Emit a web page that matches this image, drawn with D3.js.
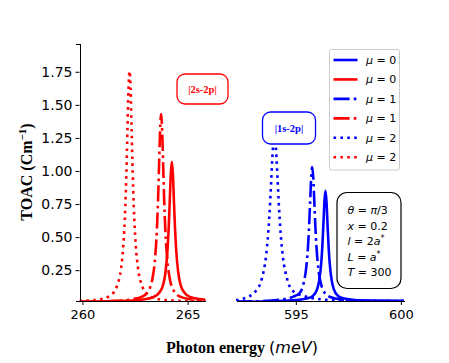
<!DOCTYPE html>
<html>
<head>
<meta charset="utf-8">
<title>TOAC</title>
<script src="https://cdn.jsdelivr.net/npm/d3@7"></script>
<style>
  body { margin: 0; background: #fff; }
  .tick text { font-family: "DejaVu Sans", sans-serif; font-size: 13px; fill: #000; }
  .yax .tick text { font-size: 14px; }
  .domain, .tick line { stroke: #000; stroke-width: 1; }
</style>
</head>
<body>
<script>
// |2s-2p| transition (left part of the broken axis), [energy meV, TOAC]
var red_mu0 = [[259.86,0.010],[262.05,0.018],[262.85,0.028],[263.35,0.045],[263.65,0.080],[263.85,0.148],[263.95,0.237],[264.05,0.418],[264.10,0.570],[264.15,0.770],[264.20,0.975],[264.25,1.070],[264.30,0.975],[264.35,0.770],[264.40,0.570],[264.45,0.418],[264.55,0.237],[264.65,0.148],[264.85,0.080],[265.15,0.045],[265.55,0.032],[265.85,0.027]];
var red_mu1 = [[259.86,0.012],[261.54,0.018],[262.34,0.030],[262.84,0.050],[263.14,0.095],[263.34,0.197],[263.44,0.317],[263.54,0.558],[263.59,0.761],[263.64,1.029],[263.69,1.303],[263.74,1.430],[263.79,1.303],[263.84,1.029],[263.89,0.761],[263.94,0.558],[264.04,0.317],[264.14,0.197],[264.34,0.095],[264.64,0.050],[265.14,0.030],[265.85,0.020]];
var red_mu2 = [[259.86,0.018],[260.40,0.022],[260.84,0.030],[261.34,0.060],[261.64,0.130],[261.84,0.268],[261.94,0.427],[262.04,0.736],[262.09,0.987],[262.14,1.304],[262.19,1.615],[262.24,1.755],[262.29,1.615],[262.34,1.304],[262.39,0.987],[262.44,0.736],[262.54,0.427],[262.64,0.268],[262.84,0.130],[263.14,0.060],[263.64,0.030],[264.44,0.020],[265.24,0.016],[265.85,0.014]];
// |1s-2p| transition (right part)
var blue_mu0 = [[592.15,0.010],[594.21,0.016],[595.01,0.024],[595.51,0.035],[595.81,0.055],[596.01,0.105],[596.11,0.170],[596.21,0.306],[596.26,0.425],[596.31,0.589],[596.36,0.765],[596.41,0.850],[596.46,0.765],[596.51,0.589],[596.56,0.425],[596.61,0.306],[596.71,0.170],[596.81,0.105],[597.01,0.055],[597.31,0.035],[597.81,0.024],[598.61,0.020],[600.15,0.018]];
var blue_mu1 = [[592.15,0.012],[593.58,0.018],[594.38,0.030],[594.88,0.050],[595.18,0.077],[595.38,0.158],[595.48,0.250],[595.58,0.432],[595.63,0.579],[595.68,0.765],[595.73,0.948],[595.78,1.030],[595.83,0.948],[595.88,0.765],[595.93,0.579],[595.98,0.432],[596.08,0.250],[596.18,0.158],[596.38,0.077],[596.68,0.045],[597.18,0.028],[597.98,0.020],[600.15,0.014]];
var blue_mu2 = [[592.15,0.024],[592.58,0.040],[593.08,0.090],[593.38,0.186],[593.58,0.355],[593.68,0.520],[593.78,0.775],[593.83,0.935],[593.88,1.095],[593.93,1.220],[593.98,1.270],[594.03,1.220],[594.08,1.095],[594.13,0.935],[594.18,0.775],[594.28,0.520],[594.38,0.355],[594.58,0.186],[594.88,0.090],[595.38,0.055],[596.18,0.030],[597.00,0.022],[598.50,0.018],[600.15,0.016]];

var yTicks = [0.25,0.5,0.75,1.0,1.25,1.5,1.75];
var xTicksLeft = [260,265];
var xTicksRight = [595,600];
var legendLabels = ["0","0","1","1","2","2"];
var params = [["θ"," = ","π","/3"],["x"," = 0.2"],["l"," = 2","a","*"],["L"," = ","a","*"],["T"," = 300"]];

var width = 449, height = 363;
var svg = d3.select('body').append('svg').attr('width',width).attr('height',height);

var y = d3.scaleLinear().domain([0.017,1.96]).range([301,44]);
var xL = d3.scaleLinear().domain([259.86,265.85]).range([79.5,205.5]);
var xR = d3.scaleLinear().domain([592.15,600.15]).range([236,404]);

var lw = 2.6;
var styles = {
  solid: null,
  dashdot: (6.2*lw)+','+(1.6*lw)+','+lw+','+(1.6*lw),
  dot: lw+','+(1.65*lw)
};

// clip each half of the broken axis
var defs = svg.append('defs');
defs.append('clipPath').attr('id','clipL').append('rect')
  .attr('x',79.5).attr('y',44).attr('width',126).attr('height',257);
defs.append('clipPath').attr('id','clipR').append('rect')
  .attr('x',236).attr('y',44).attr('width',168).attr('height',257);

function drawLine(data, xs, clip, color, style){
  var line = d3.line().x(function(d){ return xs(d[0]); }).y(function(d){ return y(d[1]); })
    .curve(d3.curveMonotoneX);
  svg.append('path').attr('d',line(data)).attr('clip-path','url(#'+clip+')')
    .attr('fill','none').attr('stroke',color).attr('stroke-width',lw)
    .attr('stroke-dasharray',styles[style]);
}

drawLine(blue_mu0, xR, 'clipR', '#0000ff', 'solid');
drawLine(red_mu0, xL, 'clipL', '#ff0000', 'solid');
drawLine(blue_mu1, xR, 'clipR', '#0000ff', 'dashdot');
drawLine(red_mu1, xL, 'clipL', '#ff0000', 'dashdot');
drawLine(blue_mu2, xR, 'clipR', '#0000ff', 'dot');
drawLine(red_mu2, xL, 'clipL', '#ff0000', 'dot');

// axes
svg.append('g').attr('class','yax').attr('transform','translate(79.5,0)')
  .call(d3.axisLeft(y).tickValues(yTicks).tickSize(4).tickPadding(3).tickFormat(d3.format('.2f')));
svg.append('g').attr('transform','translate(0,301)')
  .call(d3.axisBottom(xL).tickValues(xTicksLeft).tickSize(4).tickPadding(5).tickSizeOuter(0).tickFormat(d3.format('d')));
svg.append('g').attr('transform','translate(0,301)')
  .call(d3.axisBottom(xR).tickValues(xTicksRight).tickSize(4).tickPadding(5).tickSizeOuter(0).tickFormat(d3.format('d')));
svg.selectAll('.domain').attr('shape-rendering','crispEdges');

// axis titles
var yl = svg.append('text').attr('transform','translate(32,172) rotate(-90)')
  .attr('text-anchor','middle').style('font-family','"Liberation Serif", serif')
  .style('font-weight','bold').style('font-size','16px');
yl.append('tspan').text('TOAC (Cm');
yl.append('tspan').attr('dy',-6).style('font-size','11px').text('−1');
yl.append('tspan').attr('dy',6).text(')');

var xlab = svg.append('text').attr('x',242).attr('y',353).attr('text-anchor','middle')
  .style('font-size','16px');
xlab.append('tspan').style('font-family','"Liberation Serif", serif').style('font-weight','bold').text('Photon energy ');
xlab.append('tspan').style('font-family','"DejaVu Sans", sans-serif').text('(');
xlab.append('tspan').style('font-family','"DejaVu Sans", sans-serif').style('font-style','italic').text('meV');
xlab.append('tspan').style('font-family','"DejaVu Sans", sans-serif').text(')');

// annotation boxes
function annot(x0, y0, w, h, color, label){
  svg.append('rect').attr('x',x0).attr('y',y0).attr('width',w).attr('height',h)
    .attr('rx',8).attr('fill','#fff').attr('stroke',color).attr('stroke-width',1.3);
  svg.append('text').attr('x',x0+w/2).attr('y',y0+h/2+3.5).attr('text-anchor','middle')
    .style('font-family','"Liberation Serif", serif').style('font-weight','bold')
    .style('font-size','10.5px').attr('fill',color).text(label);
}
annot(177,74,51,30,'#ff0000','|2s-2p|');
annot(262.5,112,53,32,'#0000ff','|1s-2p|');

// legend
var lg = svg.append('g');
lg.append('rect').attr('x',329.5).attr('y',49.5).attr('width',70).attr('height',120.5).attr('rx',2)
  .attr('fill','#fff').attr('fill-opacity',0.8).attr('stroke','#cccccc');
var legendColors = ['#0000ff','#ff0000','#0000ff','#ff0000','#0000ff','#ff0000'];
var legendStyles = ['solid','solid','dashdot','dashdot','dot','dot'];
legendLabels.forEach(function(v,i){
  var ry = 60 + i*19.45;
  lg.append('line').attr('x1',333.5).attr('x2',357.5).attr('y1',ry).attr('y2',ry)
    .attr('stroke',legendColors[i]).attr('stroke-width',lw)
    .attr('stroke-dasharray',styles[legendStyles[i]]);
  var t = lg.append('text').attr('x',366).attr('y',ry+4)
    .style('font-family','"DejaVu Sans", sans-serif').style('font-size','11px');
  t.append('tspan').style('font-style','italic').text('μ');
  t.append('tspan').text(' = '+v);
});

// parameter box
svg.append('rect').attr('x',337).attr('y',192.5).attr('width',64).attr('height',96).attr('rx',10)
  .attr('fill','#fff').attr('stroke','#000').attr('stroke-width',1.2);
params.forEach(function(p,i){
  var t = svg.append('text').attr('x',347.5).attr('y',214 + i*15.5)
    .style('font-family','"DejaVu Sans", sans-serif').style('font-size','11px');
  p.forEach(function(s,j){
    var ts = t.append('tspan').text(s);
    if (s === '*') ts.attr('dy',-4).style('font-size','8px');
    else if (/^[A-Za-zθπ]$/.test(s)) ts.style('font-style','italic');
  });
});
</script>
</body>
</html>
